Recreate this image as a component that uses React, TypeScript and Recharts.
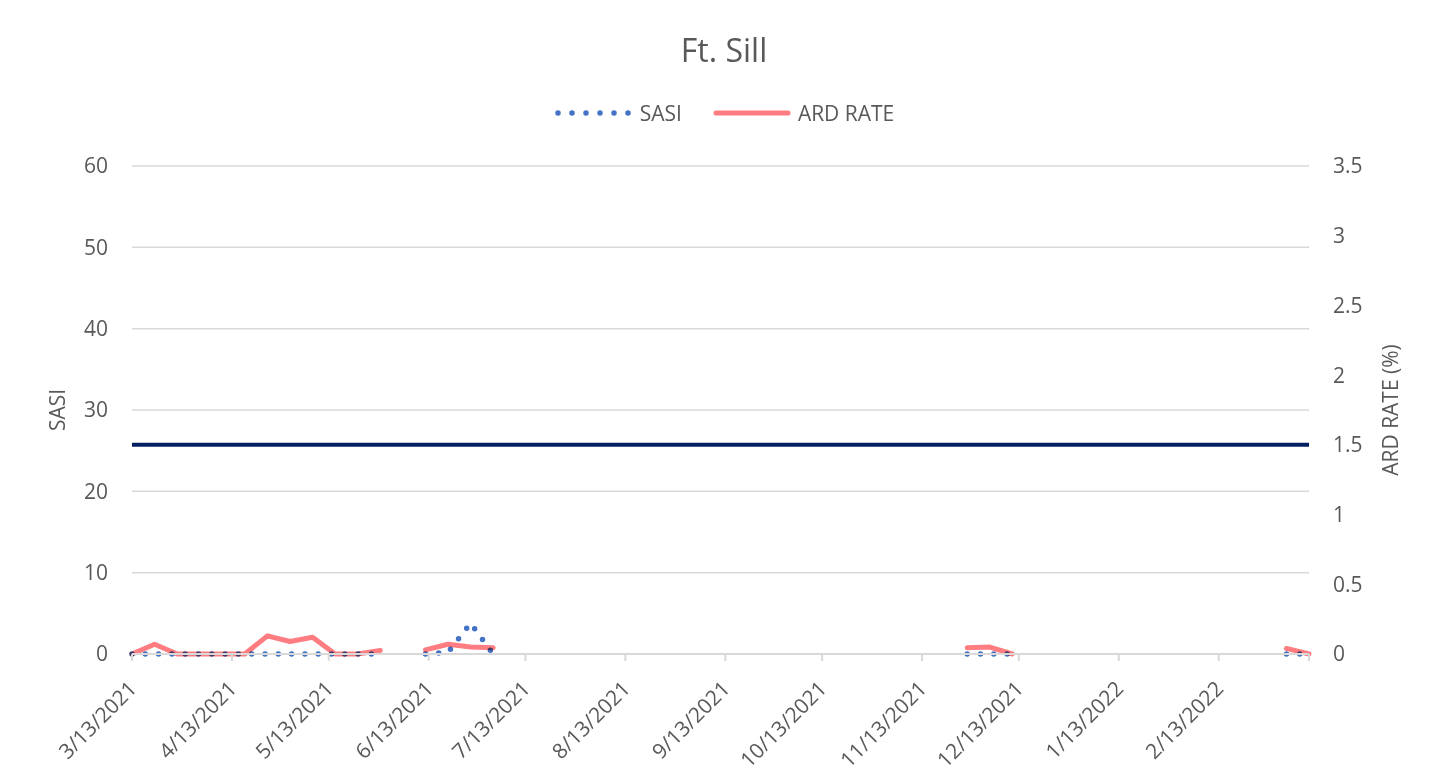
import React from 'react';
import {
    CartesianGrid,
    Line,
    LineChart,
    ReferenceLine,
    XAxis,
    YAxis,
} from 'recharts';

// weekly readings (null = no report, breaks the line)
const DATES = [
    '3/13/2021', '3/20/2021', '3/27/2021', '4/3/2021', '4/10/2021', '4/17/2021',
    '4/24/2021', '5/1/2021', '5/8/2021', '5/15/2021', '5/22/2021', '5/29/2021',
    '6/5/2021', '6/12/2021', '6/19/2021', '6/26/2021', '7/3/2021', '7/10/2021',
    '11/27/2021', '12/4/2021', '12/11/2021', '12/18/2021', '3/6/2022', '3/13/2022',
];
const SASI = [
    0, 0, 0, 0, 0, 0,
    0, 0, 0, 0, 0, 0,
    null, 0, 0.2, 3.8, 0, null,
    0, 0, 0, null, 0, 0,
];
const ARD_RATE = [
    0, 0.07, 0, 0, 0, 0,
    0.13, 0.09, 0.12, 0, 0, 0.025,
    null, 0.03, 0.07, 0.05, 0.045, null,
    0.045, 0.05, 0, null, 0.04, 0,
];

const X_TICK_LABELS = [
    '3/13/2021', '4/13/2021', '5/13/2021', '6/13/2021', '7/13/2021', '8/13/2021',
    '9/13/2021', '10/13/2021', '11/13/2021', '12/13/2021', '1/13/2022', '2/13/2022',
    '3/13/2022',
];
const SASI_TICKS = [0, 10, 20, 30, 40, 50, 60];
const ARD_TICKS = [0, 0.5, 1, 1.5, 2, 2.5, 3, 3.5];
const ARD_THRESHOLD = 1.5;

const SERIES = [
    { key: 'sasi', name: 'SASI', color: '#4472C4' },
    { key: 'ard', name: 'ARD RATE', color: '#FF7C80' },
];

const FONT = '"Open Sans", sans-serif';
const TEXT = '#595959';
const GRID = '#D9D9D9';

const toDay = (s: string) => {
    const [m, d, y] = s.split('/').map(Number);
    const [m0, d0, y0] = DATES[0].split('/').map(Number);
    return Math.round((Date.UTC(y, m - 1, d) - Date.UTC(y0, m0 - 1, d0)) / 86400000);
};

const data = DATES.map((date, i) => ({
    day: toDay(date),
    sasi: SASI[i],
    ard: ARD_RATE[i],
}));

const xTicks = X_TICK_LABELS.map(toDay);
const lastDay = xTicks[xTicks.length - 1];

const DateTick = ({ x, y, payload }: any) => {
    if (payload.value === lastDay) return null;
    const label = X_TICK_LABELS[xTicks.indexOf(payload.value)];
    return (
        <text
            x={0}
            y={0}
            transform={`translate(${x + 6},${y + 27}) rotate(-45)`}
            textAnchor="end"
            fill={TEXT}
            fontSize={21}
            fontFamily={FONT}
        >
            {label}
        </text>
    );
};

const App = () => {
    const W = 1436;
    const H = 780;
    return (
        <div
            style={{
                position: 'relative',
                width: 1438,
                height: 790,
                boxSizing: 'border-box',
                border: `1px solid ${GRID}`,
                margin: '-2px 0 0 -3px',
                background: '#fff',
                fontFamily: FONT,
                color: TEXT,
            }}
        >
            <div
                style={{
                    position: 'absolute',
                    top: 27,
                    left: 0,
                    width: W,
                    textAlign: 'center',
                    fontSize: 32,
                    lineHeight: '32px',
                }}
            >
                Ft. Sill
            </div>
            <div
                style={{
                    position: 'absolute',
                    top: 93,
                    left: 0,
                    width: W,
                    display: 'flex',
                    justifyContent: 'center',
                    alignItems: 'center',
                    fontSize: 21,
                    lineHeight: '26px',
                    zIndex: 2,
                }}
            >
                {SERIES.map((s, i) => (
                    <div key={s.key} style={{ display: 'flex', alignItems: 'center', marginLeft: i ? 30 : 0 }}>
                        <svg width={80} height={12} style={{ marginRight: 6 }}>
                            {s.key === 'sasi' ? (
                                <line x1={4} y1={6} x2={76} y2={6} stroke={s.color} strokeWidth={5.5}
                                    strokeLinecap="round" strokeDasharray="0 14" />
                            ) : (
                                <line x1={4} y1={6} x2={76} y2={6} stroke={s.color} strokeWidth={5}
                                    strokeLinecap="round" />
                            )}
                        </svg>
                        <span>{s.name}</span>
                    </div>
                ))}
            </div>
            <div style={{ position: 'absolute', top: 0, left: 0 }}>
                <LineChart
                    width={W}
                    height={H}
                    data={data}
                    margin={{ top: 159, right: 0, bottom: 0, left: 0 }}
                >
                    <CartesianGrid yAxisId="left" vertical={false} stroke={GRID} strokeWidth={1.5} />
                    <XAxis
                        dataKey="day"
                        type="number"
                        domain={[0, lastDay]}
                        ticks={xTicks}
                        interval={0}
                        height={133}
                        stroke={GRID}
                        strokeWidth={2}
                        tickLine={{ stroke: GRID, strokeWidth: 2 }}
                        tickSize={7}
                        tick={<DateTick />}
                    />
                    <YAxis
                        yAxisId="left"
                        orientation="left"
                        width={126}
                        domain={[0, 60]}
                        ticks={SASI_TICKS}
                        axisLine={false}
                        tickLine={false}
                        tickSize={0}
                        tickMargin={24}
                        tick={{ fill: TEXT, fontSize: 21, fontFamily: FONT }}
                        label={{
                            content: () => (
                                <text transform="translate(59,403) rotate(-90)" textAnchor="middle"
                                    fill={TEXT} fontSize={21} fontFamily={FONT}>SASI</text>
                            ),
                        }}
                    />
                    <YAxis
                        yAxisId="right"
                        orientation="right"
                        width={133}
                        domain={[0, 3.5]}
                        ticks={ARD_TICKS}
                        axisLine={false}
                        tickLine={false}
                        tickSize={0}
                        tickMargin={24}
                        tick={{ fill: TEXT, fontSize: 21, fontFamily: FONT }}
                        label={{
                            content: () => (
                                <text transform="translate(1392,403) rotate(-90)" textAnchor="middle"
                                    fill={TEXT} fontSize={21} fontFamily={FONT}>ARD RATE (%)</text>
                            ),
                        }}
                    />
                    <ReferenceLine yAxisId="right" y={ARD_THRESHOLD} stroke="#002060" strokeWidth={4} />
                    <Line
                        yAxisId="right"
                        dataKey="ard"
                        name="ARD RATE"
                        stroke="#FF7C80"
                        strokeWidth={5}
                        strokeLinejoin="round"
                        strokeLinecap="round"
                        dot={false}
                        activeDot={false}
                        isAnimationActive={false}
                    />
                    <Line
                        yAxisId="left"
                        dataKey="sasi"
                        name="SASI"
                        stroke="#4472C4"
                        strokeWidth={5.5}
                        strokeLinecap="round"
                        strokeDasharray="0 13.3"
                        style={{ mixBlendMode: 'multiply' }}
                        dot={false}
                        activeDot={false}
                        isAnimationActive={false}
                    />
                </LineChart>
            </div>
        </div>
    );
};

export default App;
